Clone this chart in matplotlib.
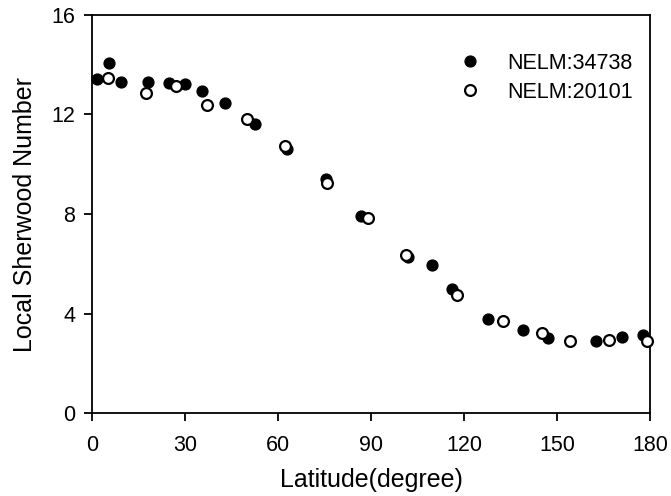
import matplotlib
matplotlib.use("Agg")
import matplotlib.pyplot as plt

plt.rcParams["font.family"] = ["Liberation Sans", "DejaVu Sans"]

# ── data ────────────────────────────────────────────────────────────────────
lat_34738 = [1.5, 5.5, 9.4, 18.0, 24.8, 30.0, 35.6, 42.9, 52.6, 63.0, 75.4,
             86.8, 101.8, 109.8, 116.2, 127.6, 138.9, 147.2, 162.5, 170.9, 177.8]
sh_34738 = [13.44, 14.07, 13.32, 13.32, 13.26, 13.24, 12.95, 12.48, 11.63, 10.60,
            9.40, 7.92, 6.27, 5.95, 5.00, 3.79, 3.33, 3.03, 2.90, 3.06, 3.13]

lat_20101 = [5.3, 17.4, 27.1, 37.0, 50.1, 62.3, 75.9, 88.9, 101.3, 117.8,
             132.7, 145.0, 154.2, 166.8, 179.1]
sh_20101 = [13.48, 12.87, 13.15, 12.36, 11.81, 10.74, 9.24, 7.83, 6.35, 4.74,
            3.70, 3.23, 2.90, 2.95, 2.90]

x_ticks = [0, 30, 60, 90, 120, 150, 180]
y_ticks = [0, 4, 8, 12, 16]

# ── figure ──────────────────────────────────────────────────────────────────
fig = plt.figure(figsize=(6.71, 4.96), dpi=100)
ax = fig.add_axes([0.137, 0.167, 0.832, 0.803])

ax.plot(lat_34738, sh_34738, "o", ms=7.8, color="black", mec="black",
        label="NELM:34738", clip_on=False, zorder=3)
ax.plot(lat_20101, sh_20101, "o", ms=7.8, mfc="white", mec="black", mew=1.6,
        label="NELM:20101", clip_on=False, zorder=4)

ax.set_xlim(0, 180)
ax.set_ylim(0, 16)
ax.set_xticks(x_ticks)
ax.set_yticks(y_ticks)
ax.tick_params(direction="out", length=6, width=1.3, labelsize=15.5, pad=6)
ax.tick_params(axis="x", pad=10)
for sp in ax.spines.values():
    sp.set_linewidth(1.3)

ax.set_xlabel("Latitude(degree)", fontsize=18, labelpad=8)
ax.set_ylabel("Local Sherwood Number", fontsize=18, labelpad=10)

ax.legend(loc="upper left", bbox_to_anchor=(0.643, 0.926), frameon=False,
          fontsize=15.5, handlelength=1.0, handletextpad=1.22, labelspacing=0.37,
          borderaxespad=0)

fig.savefig("out.png", dpi=100)
